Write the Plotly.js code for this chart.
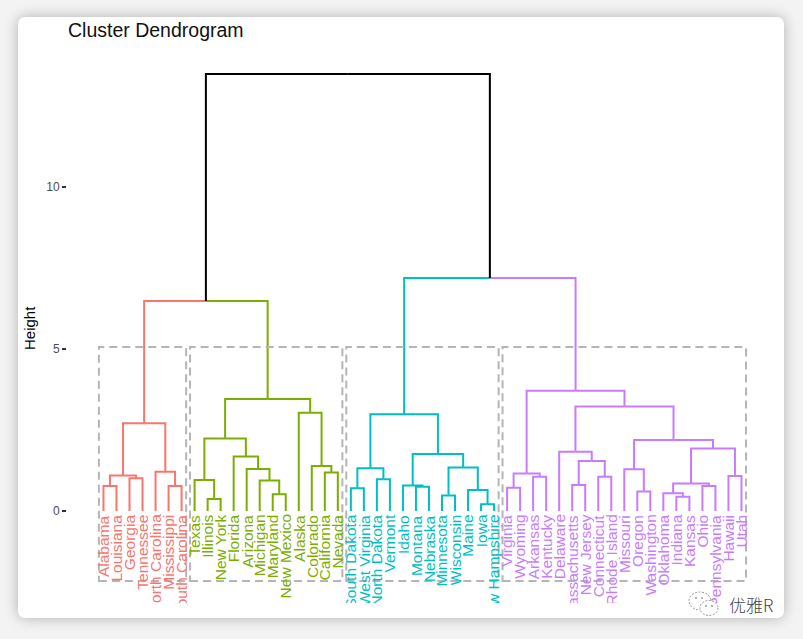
<!DOCTYPE html>
<html>
<head>
<meta charset="utf-8">
<script src="https://cdn.plot.ly/plotly-3.0.1.min.js"></script>
<style>
  html, body { margin: 0; padding: 0; width: 803px; height: 639px; background: #f3f3f3; overflow: hidden; }
  #card { position: absolute; left: 18px; top: 17px; width: 766px; height: 601px; background: #fff;
          border-radius: 7px; box-shadow: 0 0 14px rgba(0,0,0,0.28); }
  #chart { position: absolute; left: 0; top: 0; width: 803px; height: 603px; overflow: hidden; }
  #wm { position: absolute; left: 687px; top: 588px; height: 32px; display: flex; align-items: center; }
  #wm span { font-family: "Noto Sans CJK SC", sans-serif; font-weight: 300; font-size: 17px; color: #444; margin-left: 6px; }
</style>
</head>
<body>
<div id="card"></div>
<div id="chart"></div>
<div id="wm">
  <svg width="36" height="30" viewBox="0 0 36 30">
    <ellipse cx="13" cy="12" rx="11" ry="9" fill="#fff" stroke="#999" stroke-width="1" stroke-dasharray="2,1.5"/>
    <ellipse cx="22" cy="19" rx="9" ry="7.5" fill="#fff" stroke="#999" stroke-width="1" stroke-dasharray="2,1.5"/>
    <circle cx="19" cy="17" r="1" fill="#999"/><circle cx="25" cy="17" r="1" fill="#999"/>
    <circle cx="9" cy="9" r="1" fill="#999"/><circle cx="15" cy="9" r="1" fill="#999"/>
  </svg>
  <span>优雅R</span>
</div>
<script>
// Leaf labels in dendrogram order
const labels = ["Alabama","Louisiana","Georgia","Tennessee","North Carolina","Mississippi","South Carolina",
  "Texas","Illinois","New York","Florida","Arizona","Michigan","Maryland","New Mexico","Alaska","Colorado","California","Nevada",
  "South Dakota","West Virginia","North Dakota","Vermont","Idaho","Montana","Nebraska","Minnesota","Wisconsin","Maine","Iowa","New Hampshire",
  "Virginia","Wyoming","Arkansas","Kentucky","Delaware","Massachusetts","New Jersey","Connecticut","Rhode Island","Missouri","Oregon","Washington","Oklahoma","Indiana","Kansas","Ohio","Pennsylvania","Hawaii","Utah"];

// hclust-style merges: negative = leaf (1-based order index), positive = earlier merge (1-based)
const merges = [
  [-1,-2],[-3,-4],[1,2],[-6,-7],[-5,4],[3,5],
  [-9,-10],[-8,7],[-14,-15],[-13,9],[-12,10],[-11,11],[8,12],[-18,-19],[-17,14],[-16,15],[13,16],
  [6,17],
  [-20,-21],[-22,-23],[19,20],[-25,-26],[-24,22],[-27,-28],[-30,-31],[-29,25],[24,26],[23,27],[21,28],
  [-32,-33],[-34,-35],[30,31],[-37,-38],[-39,-40],[33,34],[-36,35],[-42,-43],[-41,37],[-45,-46],[-44,39],
  [-47,-48],[40,41],[-49,-50],[42,43],[38,44],[36,45],[32,46],
  [29,47],[18,48]
];
const heights = [
  0.77,1.01,1.10,0.77,1.21,2.71,
  0.37,0.96,0.52,0.94,1.30,1.68,2.24,1.19,1.39,3.03,3.46,
  6.48,
  0.70,0.98,1.32,0.75,0.79,0.48,0.21,0.65,1.34,1.76,2.99,
  0.72,1.06,1.16,0.80,1.06,1.54,1.83,0.60,1.29,0.44,0.55,
  0.77,0.85,1.08,1.93,2.19,3.23,3.71,
  7.19,13.49
];
const k = 4;
const clusterColors = ["#F8766D","#7CAE00","#00BFC4","#C77CFF"];
const yTicks = [0, 5, 10];

// ---- compute node positions ----
const nodeX = [];
function px(ref){ return ref < 0 ? (-ref - 1) : nodeX[ref - 1]; }
function ph(ref){ return ref < 0 ? 0 : heights[ref - 1]; }
merges.forEach((m, i) => { nodeX[i] = (px(m[0]) + px(m[1])) / 2; });

// top k-1 merges are uncoloured
const order = heights.map((h, i) => i).sort((a, b) => heights[b] - heights[a]);
const blackSet = new Set(order.slice(0, k - 1).map(i => i + 1));
function leafMin(ref){ return ref < 0 ? -ref - 1 : Math.min(leafMin(merges[ref-1][0]), leafMin(merges[ref-1][1])); }
function leafMax(ref){ return ref < 0 ? -ref - 1 : Math.max(leafMax(merges[ref-1][0]), leafMax(merges[ref-1][1])); }
let roots = [];
blackSet.forEach(r => merges[r-1].forEach(c => { if (!blackSet.has(c)) roots.push(c); }));
roots.sort((a, b) => leafMin(a) - leafMin(b));
const colorOf = {};
function paint(ref, c){ colorOf[ref] = c; if (ref > 0) { paint(merges[ref-1][0], c); paint(merges[ref-1][1], c); } }
roots.forEach((r, i) => paint(r, clusterColors[i]));
const leafColor = labels.map((l, i) => colorOf[-(i + 1)]);

// ---- segments grouped by colour ----
const segs = {};
merges.forEach((m, i) => {
  const xp = nodeX[i], hp = heights[i];
  m.forEach(c => {
    const col = colorOf[c] || "#000000";
    if (!segs[col]) segs[col] = {x: [], y: []};
    segs[col].x.push(xp, px(c), px(c), null);
    segs[col].y.push(hp, hp, ph(c), null);
  });
});
const traces = Object.keys(segs).map(col => ({
  type: "scatter", mode: "lines", x: segs[col].x, y: segs[col].y,
  line: {color: col, width: 2}, hoverinfo: "skip", showlegend: false
}));

// ---- cluster rectangles ----
const rectTop = 5.06, rectBottom = -2.16;
const shapes = roots.map(r => ({
  type: "rect", xref: "x", yref: "y",
  x0: leafMin(r) - 0.35, x1: leafMax(r) + 0.35, y0: rectBottom, y1: rectTop,
  line: {color: "#b5b5b5", width: 2, dash: "8px,5px"}, fillcolor: "rgba(0,0,0,0)", layer: "above"
}));

// ---- leaf label annotations ----
const font = "Liberation Sans, Arial, Helvetica, sans-serif";
const annotations = labels.map((l, i) => ({
  x: i, y: -0.05, xref: "x", yref: "y", text: l, textangle: -90,
  xanchor: "center", yanchor: "top", showarrow: false,
  font: {family: font, size: 15.5, color: leafColor[i]}
}));
annotations.push({
  xref: "paper", x: 0, xshift: -37, xanchor: "center", yref: "y", y: 5.65, yanchor: "middle",
  text: "Height", textangle: -90, showarrow: false, font: {family: font, size: 15, color: "#000"}
});

const H = 603;
const layout = {
  width: 803, height: H,
  margin: {l: 67, r: 42, t: 51, b: 0},
  paper_bgcolor: "rgba(0,0,0,0)", plot_bgcolor: "rgba(0,0,0,0)",
  title: {text: "Cluster Dendrogram", x: 68/803, xanchor: "left", xref: "container",
          y: 1 - 30.5/H, yref: "container", yanchor: "middle",
          font: {family: font, size: 19.5, color: "#111"}},
  xaxis: {visible: false, range: [-2.8, 50.5], fixedrange: true},
  yaxis: {range: [-(H - 511)/32.4, 14.2], tickvals: yTicks, ticktext: yTicks.map(String),
          ticks: "outside", ticklen: 4, tickwidth: 1.3, tickcolor: "#333",
          showgrid: false, zeroline: false, showline: false,
          tickfont: {family: font, size: 12, color: "#4d4d4d"}, fixedrange: true},
  shapes: shapes,
  annotations: annotations,
  showlegend: false
};
Plotly.newPlot("chart", traces, layout, {displayModeBar: false, staticPlot: true});
</script>
</body>
</html>
